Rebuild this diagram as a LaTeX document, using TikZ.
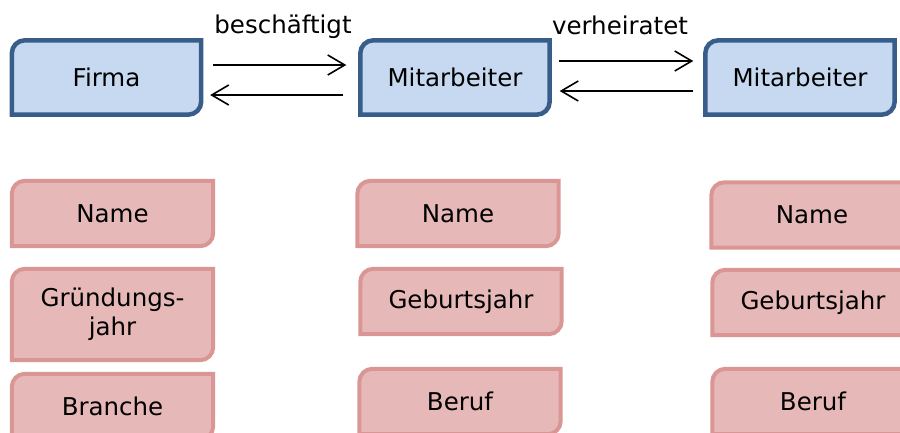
\documentclass[tikz,border=0pt]{standalone}
\usepackage{fontspec}
\setmainfont{DejaVu Sans}
\usetikzlibrary{arrows.meta,backgrounds}
\definecolor{entfill}{HTML}{C6D9F1}
\definecolor{entdraw}{HTML}{385D8A}
\definecolor{attfill}{HTML}{E6B9B8}
\definecolor{attdraw}{HTML}{D99694}

\begin{document}
\begin{tikzpicture}[x=1pt,y=-1pt,
    every node/.style={font=\fontsize{24.5}{29}\selectfont, inner sep=0pt},
    entity/.style={minimum width=189pt, minimum height=74pt},
    attr/.style={minimum width=201pt, align=center},
    entline/.style={draw=entdraw, fill=entfill, line width=4.5pt},
    attline/.style={draw=attdraw, fill=attfill, line width=4pt},
    rel/.style={draw, line width=1.6pt, -{Straight Barb[length=17pt,width=20pt]}}]
        \clip (0,0) rectangle (900,432);
        \useasboundingbox (0,0) rectangle (900,432);

        \node[entity] (firma) at (106.5,77.5) {Firma};
        \node[entity] (mit1) at (455,77.5) {Mitarbeiter};
        \node[entity] (mit2) at (800,77.5) {Mitarbeiter};

        \foreach [count=\i] \coord/\h/\txt in {(112.5,213.5)/65/Name,(112.5,314.5)/91/{Gründungs-\\jahr},(112.5,406.5)/65/Branche,(458,213.5)/65/Name,(461,301.5)/65/Geburtsjahr,(460,401.5)/65/Beruf,(812,215)/65/Name,(813,302.5)/65/Geburtsjahr,(813,401.5)/65/Beruf}{
            \node[attr, minimum height=\h pt] (a\i) at \coord {\txt};
        }

        \begin{scope}[on background layer]
            \foreach \n in {firma,mit1,mit2}{
                \draw[entline] (\n.south west) -- ([yshift=-13pt]\n.north west) arc[start angle=180,end angle=90,radius=13pt] -- (\n.north east) -- ([yshift=13pt]\n.south east) arc[start angle=0,end angle=-90,radius=13pt] -- cycle;
            }
            \foreach \i in {1,...,9}{
                \draw[attline] (a\i.south west) -- ([yshift=-13pt]a\i.north west) arc[start angle=180,end angle=90,radius=13pt] -- (a\i.north east) -- ([yshift=13pt]a\i.south east) arc[start angle=0,end angle=-90,radius=13pt] -- cycle;
            }
        \end{scope}

        % Beziehungen
        \draw[rel] ([xshift=12pt,yshift=12.5pt]firma.east) -- ([xshift=-14pt,yshift=12.5pt]mit1.west);
        \draw[rel] ([xshift=-17pt,yshift=-17.5pt]mit1.west) -- ([xshift=9pt,yshift=-17.5pt]firma.east);
        \draw[rel] ([xshift=9pt,yshift=16.5pt]mit1.east) -- ([xshift=-12pt,yshift=16.5pt]mit2.west);
        \draw[rel] ([xshift=-12pt,yshift=-13.5pt]mit2.west) -- ([xshift=10pt,yshift=-13.5pt]mit1.east);

        \node (besch) at (283,27) {beschäftigt};
        \node (verh) at (620,25) {verheiratet};
    \end{tikzpicture}
\end{document}
